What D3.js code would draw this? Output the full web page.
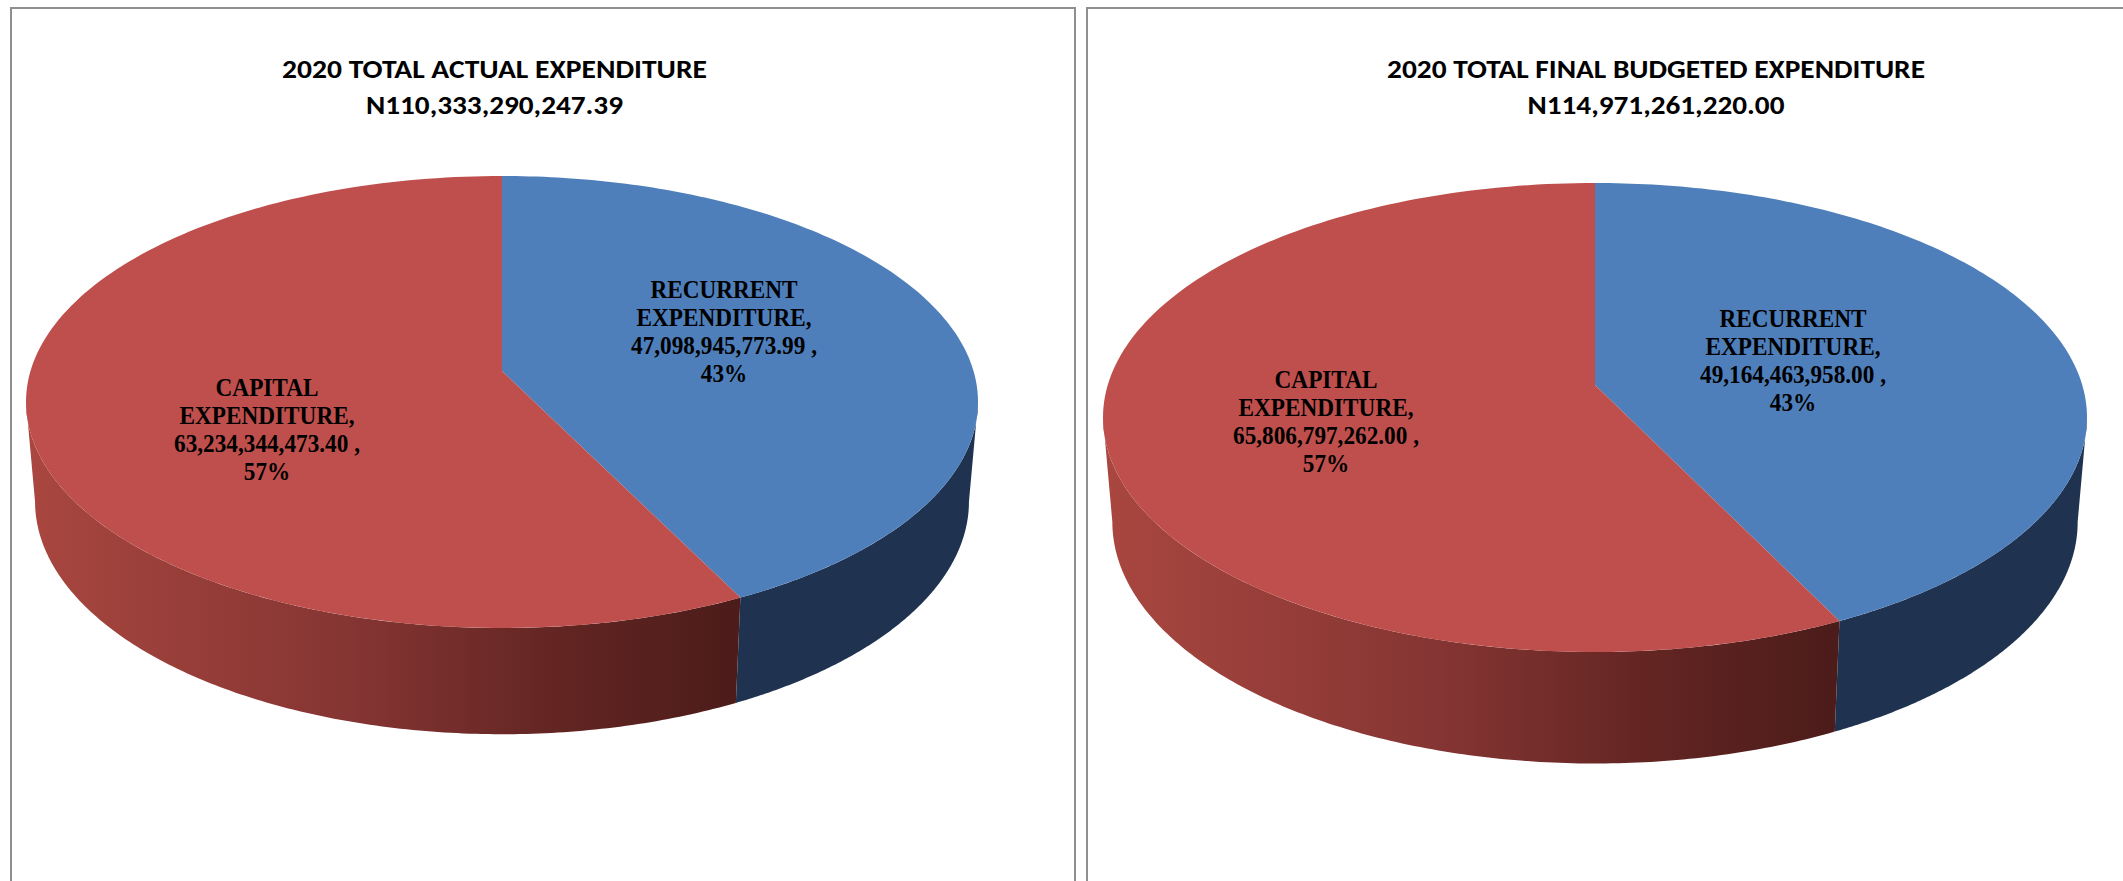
<!DOCTYPE html>
<html>
<head>
<meta charset="utf-8">
<title>2020 Expenditure</title>
<script src="https://d3js.org/d3.v7.min.js"></script>
<style>
  html, body { margin: 0; padding: 0; background: #fff; overflow: hidden; }
  svg { display: block; }
  .chart-title { font-family: Carlito, Lato, "Open Sans", sans-serif; font-weight: 700; font-size: 27px; fill: #000; text-anchor: middle; }
  .slice-label { font-family: "Liberation Serif", "Times New Roman", serif; font-weight: 700; font-size: 25px; fill: #000; text-anchor: middle; }
</style>
</head>
<body>
<svg id="chart" width="2123" height="881"></svg>
<script>
// Expenditure figures, in naira
const categories = ["RECURRENT EXPENDITURE", "CAPITAL EXPENDITURE"];
const actualValues = [47098945773.99, 63234344473.40];
const budgetValues = [49164463958.00, 65806797262.00];
const titles = ["2020 TOTAL ACTUAL EXPENDITURE", "2020 TOTAL FINAL BUDGETED EXPENDITURE"];
const totalLabels = ["N110,333,290,247.39", "N114,971,261,220.00"];
const topColors = ["#4f7fbb", "#bf4f4c"];
const sideBlue = "#1f3350";

// Placement of each pie: frame, perspective disc, and text anchors
const layout = [
  { frame: [11, 1075], values: actualValues, cx: 502, cy: 371, top: 176, bottom: 628, rx: 476, depth: 98.5,
    titleX: 494.5, titleW: [425, 257], labelX: [724, 267], labelY: [298, 396] },
  { frame: [1087, 2130], values: budgetValues, cx: 1595, cy: 385, top: 183, bottom: 652, rx: 492, depth: 103.5,
    titleX: 1656, titleW: [538, 257], labelX: [1793, 1326], labelY: [327, 388] }
];
// The lower rim is slightly narrower and slightly deeper than the top rim
const lowerRimX = 0.981;
const lowerRimY = 1.03;

const svg = d3.select("#chart");
const defs = svg.append("defs");
const money = d3.format(",.2f");
const pct = d3.format(".0%");
const color = d3.scaleOrdinal(categories, topColors);
const outline = d3.line();

layout.forEach((p, i) => {
  const g = svg.append("g");

  // Open-bottomed frame around the chart
  g.append("path")
    .attr("d", outline([[p.frame[0], 881], [p.frame[0], 8], [p.frame[1], 8], [p.frame[1], 881]]))
    .attr("fill", "none").attr("stroke", "#8f8f8f").attr("stroke-width", 2);

  // Disc projection: angle (clockwise from 12 o'clock) to page position
  const up = p.cy - p.top, down = p.bottom - p.cy;
  const k = (up - down) / (up + down);
  const A = up * (1 - k);
  const B = p.rx * Math.sqrt(1 - k * k);
  const project = (a, sx = 1, sy = 1, dy = 0) => {
    const u = Math.sin(a), v = -Math.cos(a), w = 1 + k * v;
    return [p.cx + sx * B * u / w, p.cy + dy + sy * A * v / w];
  };
  const rimTop = a => project(a);
  const rimLow = a => project(a, lowerRimX, lowerRimY, p.depth);
  const sweep = (a0, a1) => d3.range(0, 161).map(t => a0 + (a1 - a0) * t / 160);

  const arcs = d3.pie().sort(null).startAngle(0).endAngle(2 * Math.PI)(p.values);
  const seam = arcs[0].endAngle;
  // Angle at which the projected rim is widest on either side
  const widest = Math.acos(k);

  // Outer wall: dark blue on the right, shaded red on the left
  const gradId = "wall-" + i;
  const xLeft = rimLow(2 * Math.PI - widest)[0], xSeam = rimLow(seam)[0];
  const shade = defs.append("linearGradient").attr("id", gradId)
    .attr("gradientUnits", "userSpaceOnUse")
    .attr("x1", xLeft).attr("x2", xSeam).attr("y1", 0).attr("y2", 0);
  [[0, "#a8463f"], [0.45, "#853533"], [0.75, "#622522"], [1, "#4c1c1a"]].forEach(s =>
    shade.append("stop").attr("offset", s[0]).attr("stop-color", s[1]));

  const wall = (a0, a1) => outline(
    sweep(a0, a1).map(rimTop).concat(sweep(a1, a0).map(rimLow))) + "Z";

  g.append("path").attr("d", wall(widest, seam)).attr("fill", sideBlue);
  g.append("path").attr("d", wall(seam, 2 * Math.PI - widest)).attr("fill", `url(#${gradId})`);

  // Top face slices
  g.selectAll("path.slice").data(arcs).join("path")
    .attr("class", "slice")
    .attr("d", d => outline([[p.cx, p.cy]].concat(sweep(d.startAngle, d.endAngle).map(rimTop))) + "Z")
    .attr("fill", (d, j) => color(categories[j]));

  // Title, two lines
  [titles[i], totalLabels[i]].forEach((t, j) => {
    g.append("text").attr("class", "chart-title")
      .attr("x", p.titleX).attr("y", 78 + j * 36)
      .attr("textLength", p.titleW[j]).attr("lengthAdjust", "spacingAndGlyphs")
      .text(t);
  });

  // Data labels: name over two lines, value, share
  const total = d3.sum(p.values);
  p.values.forEach((v, j) => {
    const words = categories[j].split(" ");
    const lines = [words[0], words[1] + ",", money(v) + " ,", pct(v / total)];
    lines.forEach((line, n) => {
      g.append("text").attr("class", "slice-label")
        .attr("transform", `translate(${p.labelX[j]},${p.labelY[j] + n * 28}) scale(0.93,1)`)
        .text(line);
    });
  });
});
</script>
</body>
</html>
